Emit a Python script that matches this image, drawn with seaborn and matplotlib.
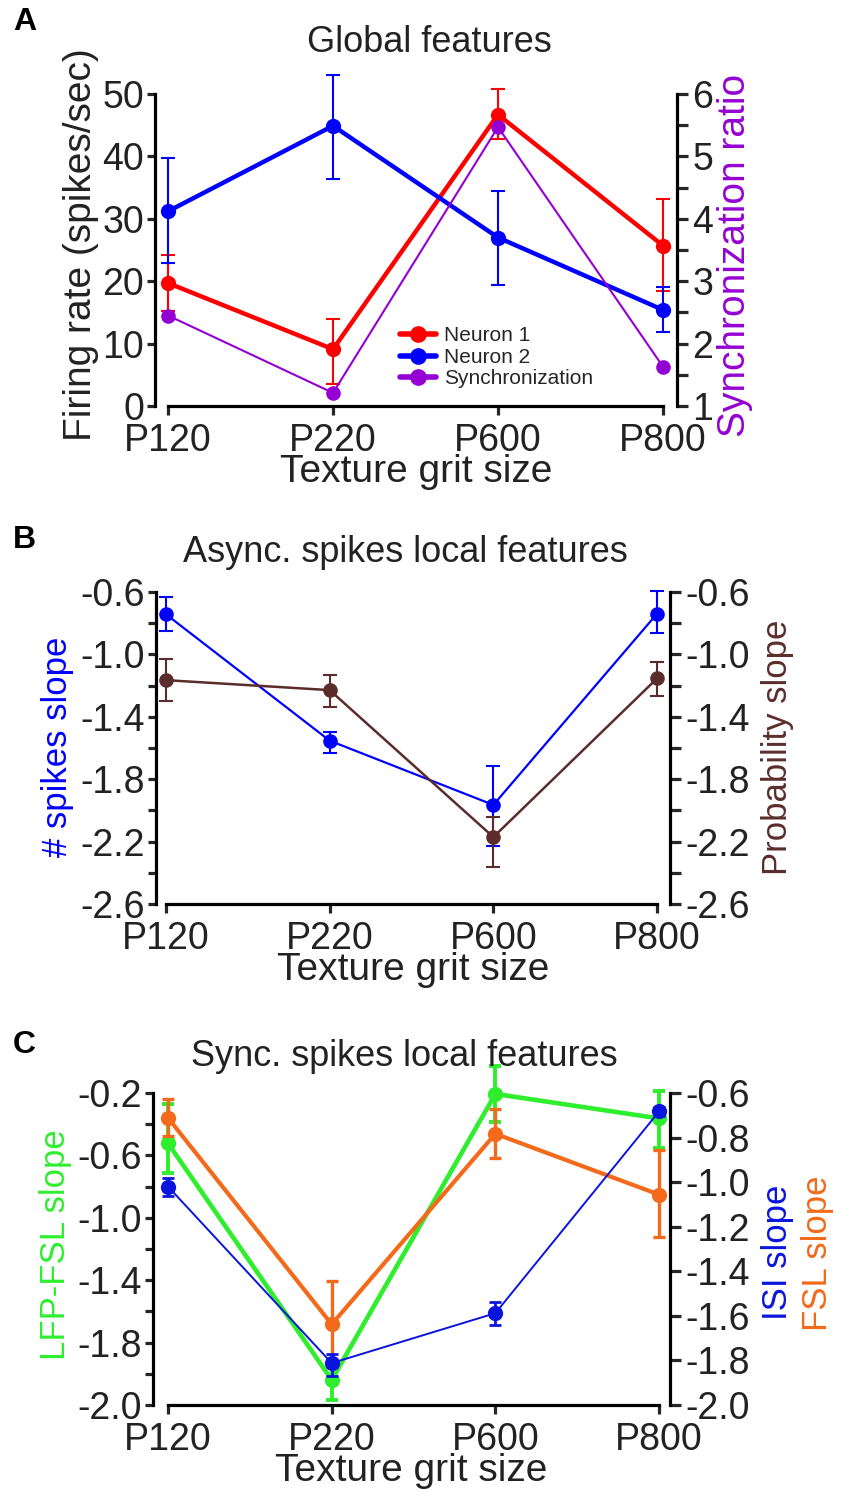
import numpy as np
import seaborn as sns
import matplotlib.pyplot as plt
from matplotlib.lines import Line2D
from matplotlib.ticker import MultipleLocator

# Texture categories
grits = ["P120", "P220", "P600", "P800"]

# A - global features (mean and error bar ends)
neuron1_rate = [19.7, 9.1, 46.7, 25.7]
neuron1_lo = [15.3, 3.6, 42.8, 18.4]
neuron1_hi = [24.2, 13.9, 50.8, 33.1]
neuron2_rate = [31.2, 44.9, 27.0, 15.4]
neuron2_lo = [22.9, 36.4, 19.4, 11.8]
neuron2_hi = [39.7, 53.1, 34.5, 19.0]
sync_ratio = [2.45, 1.21, 5.47, 1.63]

# B - async spikes local features
nspikes_slope = [-0.743, -1.553, -1.965, -0.739]
nspikes_lo = [-0.852, -1.635, -2.23, -0.862]
nspikes_hi = [-0.632, -1.496, -1.715, -0.594]
prob_slope = [-1.165, -1.229, -2.171, -1.154]
prob_lo = [-1.301, -1.34, -2.365, -1.265]
prob_hi = [-1.031, -1.129, -2.04, -1.046]

# C - sync spikes local features
lfp_fsl_slope = [-0.523, -2.039, -0.206, -0.363]
lfp_fsl_lo = [-0.716, -2.168, -0.387, -0.555]
lfp_fsl_hi = [-0.273, -1.91, -0.03, -0.187]
isi_slope = [-1.020, -1.812, -1.588, -0.683]
isi_lo = [-1.06, -1.87, -1.642, -0.705]
isi_hi = [-0.98, -1.77, -1.54, -0.661]
fsl_slope = [-0.712, -1.638, -0.783, -1.056]
fsl_lo = [-0.792, -1.83, -0.891, -1.248]
fsl_hi = [-0.627, -1.445, -0.672, -0.855]

# tick labels (panel C left axis is labelled as in the original figure)
b_ticks = [-2.6, -2.2, -1.8, -1.4, -1.0, -0.6]
c_left_ticks = [-2.2, -1.8, -1.4, -1.0, -0.6, -0.2]
c_left_labels = ["-2.0", "-1.8", "-1.4", "-1.0", "-0.6", "-0.2"]
c_right_ticks = [-2.0, -1.8, -1.6, -1.4, -1.2, -1.0, -0.8, -0.6]

RED, BLUE, PURPLE = "#FF0000", "#0000FF", "#9400D3"
BROWN = "#5B2C2C"
GREEN, ORANGE, DBLUE = "#2EEE2E", "#F26A1A", "#0A14DC"
TXT = "#222222"

W, H = 851, 1508

sns.set_theme(style="ticks")
plt.rcParams["font.family"] = ["Liberation Sans", "DejaVu Sans"]
plt.rcParams["axes.linewidth"] = 2.3
plt.rcParams["axes.edgecolor"] = "black"


def px_axes(fig, x0, y0, x1, y1):
    return fig.add_axes([x0 / W, 1 - y1 / H, (x1 - x0) / W, (y1 - y0) / H])


def draw_series(ax, mean, lo, hi, color, lw, ms, elw=1.5, cap=5):
    pos = np.arange(len(grits))
    if lo is not None:
        yerr = [np.subtract(mean, lo), np.subtract(hi, mean)]
        eb = ax.errorbar(pos, mean, yerr=yerr, fmt="none", ecolor=color,
                         elinewidth=elw, capsize=cap, capthick=elw, zorder=2)
        for part in eb.get_children():
            part.set_clip_on(False)
    sns.lineplot(x=pos, y=mean, ax=ax, color=color, linewidth=lw, marker="o",
                 markersize=ms, markeredgewidth=0, clip_on=False, zorder=3)


def style_axes(ax, twin, xlim):
    ax.set_xlim(xlim)
    ax.set_xticks(range(len(grits)), grits)
    ax.spines["top"].set_visible(False)
    ax.spines["right"].set_visible(False)
    ax.spines["bottom"].set_bounds(0, len(grits) - 1)
    for s in ["left", "top", "bottom"]:
        twin.spines[s].set_visible(False)
    ax.tick_params(axis="x", length=6.5, width=2.3, pad=6, labelsize=27, labelcolor=TXT)
    ax.tick_params(axis="y", which="both", length=6, width=2.3, pad=2, labelsize=27, labelcolor=TXT)
    twin.tick_params(axis="y", which="both", length=8, width=2.3, pad=3, labelsize=27, labelcolor=TXT)
    ax.set_xlabel("Texture grit size", fontsize=28, color=TXT, labelpad=-4)
    ax.set_ylabel("")
    twin.set_ylabel("")


def ptext(fig, x, y, s, **kw):
    fig.text(x / W, 1 - y / H, s, ha="center", va="center", **kw)


fig = plt.figure(figsize=(W / 100, H / 100), dpi=100)

# ---- A ----
axA = px_axes(fig, 155, 94, 677, 406)
axA2 = axA.twinx()
draw_series(axA, neuron1_rate, neuron1_lo, neuron1_hi, RED, 3.2, 11)
draw_series(axA, neuron2_rate, neuron2_lo, neuron2_hi, BLUE, 3.2, 11)
draw_series(axA2, sync_ratio, None, None, PURPLE, 1.5, 10.5)
axA.set_ylim(0, 50)
axA.set_yticks(range(0, 51, 10))
axA2.set_ylim(1, 6)
axA2.set_yticks(range(1, 7))
axA2.yaxis.set_minor_locator(MultipleLocator(0.5))
style_axes(axA, axA2, (-0.079, 3.085))
handles = [Line2D([], [], color=c, lw=4, marker="o", ms=11) for c in (RED, BLUE, PURPLE)]
axA2.legend(handles, ["Neuron 1", "Neuron 2", "Synchronization"], loc="upper left",
            bbox_to_anchor=(0.47, 0.255), frameon=False, fontsize=15, handlelength=1.7,
            handletextpad=0.4, labelspacing=0.12, borderpad=0, borderaxespad=0)
ptext(fig, 81, 245, "Firing rate (spikes/sec)", rotation=90, fontsize=28, color=TXT)
ptext(fig, 735, 255, "Synchronization ratio", rotation=90, fontsize=28, color=PURPLE)
ptext(fig, 429, 42, "Global features", fontsize=26, color=TXT)
fig.text(13 / W, 1 - 22 / H, "A", ha="left", va="center", fontsize=23, fontweight="bold", color="black")

# ---- B ----
axB = px_axes(fig, 156, 592, 670, 904)
axB2 = axB.twinx()
draw_series(axB, nspikes_slope, nspikes_lo, nspikes_hi, BLUE, 1.6, 10.5)
draw_series(axB2, prob_slope, prob_lo, prob_hi, BROWN, 1.8, 10.5)
for a in (axB, axB2):
    a.set_ylim(-2.6, -0.6)
    a.set_yticks(b_ticks, [f"{v:.1f}" for v in b_ticks])
    a.yaxis.set_minor_locator(MultipleLocator(0.2))
style_axes(axB, axB2, (-0.061, 3.079))
ptext(fig, 58, 747, "# spikes slope", rotation=90, fontsize=25, color=BLUE)
ptext(fig, 778, 747, "Probability slope", rotation=90, fontsize=25, color=BROWN)
ptext(fig, 405, 552, "Async. spikes local features", fontsize=26, color=TXT)
fig.text(13 / W, 1 - 540 / H, "B", ha="left", va="center", fontsize=23, fontweight="bold", color="black")

# ---- C ----
axC = px_axes(fig, 153, 1093, 670, 1405)
axC2 = axC.twinx()
draw_series(axC, lfp_fsl_slope, lfp_fsl_lo, lfp_fsl_hi, GREEN, 3.3, 11, elw=2.8, cap=4)
draw_series(axC2, fsl_slope, fsl_lo, fsl_hi, ORANGE, 3.0, 11, elw=2.4, cap=4)
draw_series(axC2, isi_slope, isi_lo, isi_hi, DBLUE, 1.4, 11, elw=2.0, cap=4)
axC.set_ylim(-2.2, -0.2)
axC.set_yticks(c_left_ticks, c_left_labels)
axC.yaxis.set_minor_locator(MultipleLocator(0.2))
axC2.set_ylim(-2.0, -0.6)
axC2.set_yticks(c_right_ticks, [f"{v:.1f}" for v in c_right_ticks])
style_axes(axC, axC2, (-0.092, 3.067))
ptext(fig, 56, 1245, "LFP-FSL slope", rotation=90, fontsize=25, color=GREEN)
ptext(fig, 777, 1252, "ISI slope", rotation=90, fontsize=25, color=DBLUE)
ptext(fig, 817, 1253, "FSL slope", rotation=90, fontsize=25, color=ORANGE)
ptext(fig, 404, 1056, "Sync. spikes local features", fontsize=26, color=TXT)
fig.text(13 / W, 1 - 1045 / H, "C", ha="left", va="center", fontsize=23, fontweight="bold", color="black")

fig.savefig("out.png", dpi=100, facecolor="white")
